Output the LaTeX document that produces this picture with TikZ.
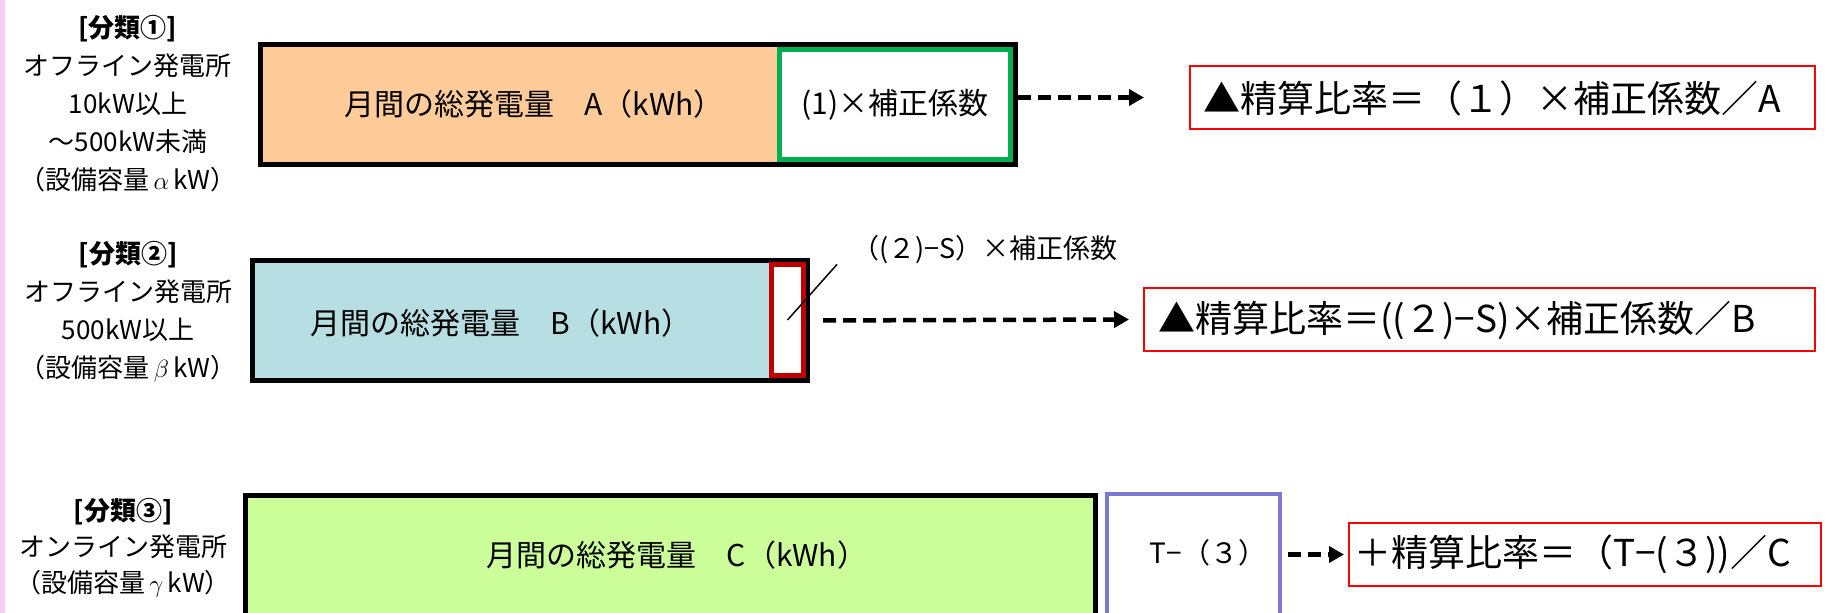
\documentclass[tikz,border=0pt]{standalone}
\usepackage{fontspec}
\setmainfont{Noto Sans CJK JP}
\usetikzlibrary{arrows.meta,positioning}

\definecolor{kwhorange}{RGB}{255,204,153}
\definecolor{kwhblue}{RGB}{183,222,226}
\definecolor{kwhgreen}{RGB}{204,255,153}
\definecolor{hoseigreen}{RGB}{0,176,80}
\definecolor{hoseired}{RGB}{192,0,0}
\definecolor{onlineblue}{RGB}{122,122,210}
\definecolor{sidepink}{RGB}{248,204,248}

\tikzset{
    totalbox/.style={draw=black, line width=5pt, inner sep=0pt},
    ratiobox/.style={draw=red, line width=2pt, inner sep=0pt},
    classtext/.style={align=center, inner sep=0pt, font={\fontsize{26}{38}\selectfont}},
    boxtext/.style={inner sep=0pt, font={\fontsize{30}{36}\selectfont}},
    ratiotext/.style={inner sep=0pt, anchor=west, font={\fontsize{37}{44}\selectfont}},
    settlearrow/.style={line width=4.5pt, dash pattern=on 13pt off 7pt, -{Triangle[length=15pt,width=16pt]}},
}

\begin{document}
\begin{tikzpicture}[x=1pt, y=-1pt]
            \useasboundingbox (0,0) rectangle (1831,613);
            \clip (0,0) rectangle (1831,613);
            \fill[sidepink] (0,0) rectangle (5,613);

            % 分類1
            \node[classtext] (classA) at (128,103.5)
                {\textbf{[分類①]}\\オフライン発電所\\10kW以上\\～500kW未満\\（設備容量\,$\alpha$\,kW）};
            \node[totalbox, fill=kwhorange, minimum width=755.5pt, minimum height=120pt] (totalA) at (637.75,104.5) {};
            \node[boxtext] (genA) at (534,104) {月間の総発電量　A（kWh）};
            \node[boxtext, draw=hoseigreen, line width=4.5pt, fill=white, minimum width=231pt, minimum height=110pt] (corrA) at (895,104.5) {(1)×補正係数};
            \node[ratiobox, minimum width=625pt, minimum height=63pt] (ratioA) at (1502.5,97.5) {};
            \node[ratiotext] (ratioAtext) at (1203,98) {▲精算比率＝（１）×補正係数／A};
            \draw[settlearrow] (totalA.east |- ratioA.west) -- ([xshift=-45pt]ratioA.west);

            % 分類2
            \node[classtext] (classB) at (128,311.5)
                {\textbf{[分類②]}\\オフライン発電所\\500kW以上\\（設備容量\,$\beta$\,kW）};
            \node[totalbox, fill=kwhblue, minimum width=555pt, minimum height=120pt] (totalB) at (530,320.5) {};
            \node[boxtext] (genB) at (501,323) {月間の総発電量　B（kWh）};
            \node[draw=hoseired, line width=5pt, fill=white, inner sep=0pt, minimum width=32pt, minimum height=111pt] (corrB) at (787.5,320) {};
            \node[inner sep=0pt, anchor=west, font={\fontsize{27}{32}\selectfont}] (corrBnote) at (852,250) {（(２)−S）×補正係数};
            \draw[line width=1.5pt] (corrB.center) -- ([xshift=-15pt]corrBnote.south west);
            \node[ratiobox, minimum width=671pt, minimum height=63pt] (ratioB) at (1479.5,319.5) {};
            \node[ratiotext] (ratioBtext) at (1158,320) {▲精算比率＝((２)−S)×補正係数／B};
            \draw[settlearrow, shorten <=13pt] (totalB.east) -- ([xshift=-14pt]ratioB.west);

            % 分類3
            \node[classtext, font={\fontsize{26}{36}\selectfont}] (classC) at (123,548)
                {\textbf{[分類③]}\\オンライン発電所\\（設備容量\,$\gamma$\,kW）};
            \node[totalbox, fill=kwhgreen, minimum width=850pt, minimum height=150pt] (totalC) at (670.5,570.5) {};
            \node[boxtext] (genC) at (677,555) {月間の総発電量　C（kWh）};
            \node[draw=onlineblue, line width=4pt, fill=white, inner sep=0pt, minimum width=173pt, minimum height=150pt] (corrC) at (1193.5,569) {};
            \node[boxtext, font={\fontsize{28}{34}\selectfont}] (corrCtext) at (1208,553) {T−（３）};
            \node[ratiobox, minimum width=472pt, minimum height=63pt] (ratioC) at (1585,554.5) {};
            \node[ratiotext] (ratioCtext) at (1354,554) {＋精算比率＝（T−(３))／C};
            \draw[settlearrow, shorten <=6pt, shorten >=4pt] (corrC.east |- ratioC.west) -- (ratioC.west);
\end{tikzpicture}
\end{document}
